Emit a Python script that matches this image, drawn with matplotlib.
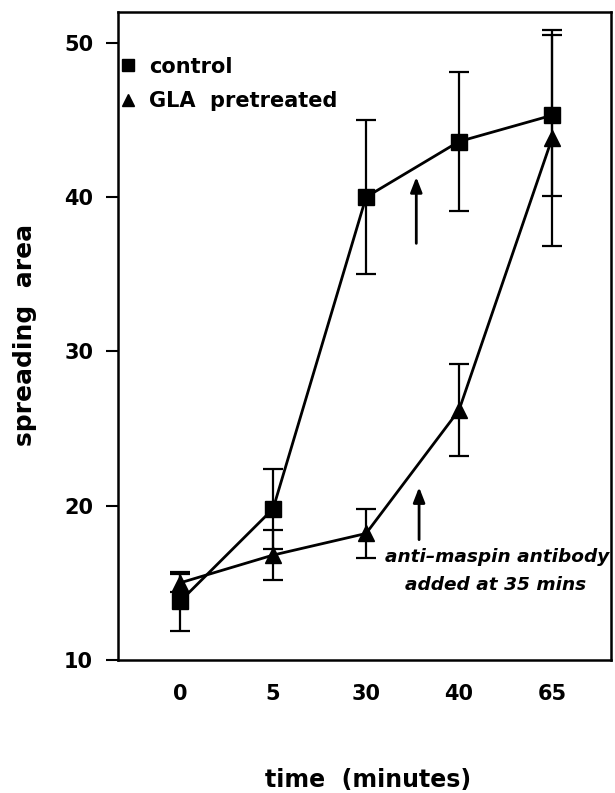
import matplotlib
matplotlib.use("Agg")
import matplotlib.pyplot as plt
from matplotlib.lines import Line2D

# time points (categorical axis)
time_labels = ["0", "5", "30", "40", "65"]

# mean spreading area and error
control_mean = [13.8, 19.8, 40.0, 43.6, 45.3]
control_err = [1.9, 2.6, 5.0, 4.5, 5.2]
gla_mean = [15.0, 16.8, 18.2, 26.2, 43.8]
gla_err = [0.6, 1.6, 1.6, 3.0, 7.0]

# antibody addition (35 min, between the 30 and 40 points)
arrow_x = [2.54, 2.57]
arrow_y0 = [37.0, 17.8]
arrow_y1 = [41.3, 21.2]

plt.rcParams["font.family"] = ["DejaVu Sans"]
plt.rcParams["font.weight"] = "bold"

fig = plt.figure(figsize=(6.15, 7.93), dpi=100)
ax = fig.add_axes([0.192, 0.1677, 0.8015, 0.8173])

xpos = list(range(len(time_labels)))
ekw = dict(color="black", lw=2, capsize=7, capthick=1.6, elinewidth=1.6)
ax.errorbar(xpos, control_mean, yerr=control_err, marker="s", ms=11,
            mfc="black", mec="black", **ekw)
ax.errorbar(xpos, gla_mean, yerr=gla_err, marker="^", ms=11,
            mfc="black", mec="black", **ekw)

for x, y0, y1 in zip(arrow_x, arrow_y0, arrow_y1):
    ax.annotate("", xy=(x, y1), xytext=(x, y0),
                arrowprops=dict(arrowstyle="-|>,head_length=0.9,head_width=0.35",
                                lw=2, color="black", shrinkA=0, shrinkB=0))

ax.text(3.41, 16.7, "anti\u2013maspin antibody", fontsize=13.3, style="italic",
        fontweight="bold", ha="center", va="center", clip_on=False)
ax.text(3.39, 14.85, "added at 35 mins", fontsize=13.3, style="italic",
        fontweight="bold", ha="center", va="center")

ax.set_xlim(-0.667, 4.634)
ax.set_ylim(10, 52)
ax.set_xticks(xpos)
ax.set_xticklabels(time_labels)
ax.set_yticks([10, 20, 30, 40, 50])
ax.tick_params(axis="x", length=0, pad=17, labelsize=15)
ax.tick_params(axis="y", length=9, width=1.5, pad=9, labelsize=15)
for s in ax.spines.values():
    s.set_linewidth(1.8)

fig.text(368 / 615, 1 - 780 / 793, "time  (minutes)", fontsize=17,
         fontweight="bold", ha="center", va="center")
fig.text(25 / 615, 1 - 335 / 793, "spreading  area", fontsize=18,
         fontweight="bold", ha="center", va="center", rotation=90)

handles = [Line2D([], [], ls="none", marker="s", ms=9, color="black"),
           Line2D([], [], ls="none", marker="^", ms=9, color="black")]
ax.legend(handles, ["control", "GLA  pretreated"], loc="upper left",
          bbox_to_anchor=(-0.03, 0.96), frameon=False, handlelength=0.6,
          handletextpad=0.7, labelspacing=0.7,
          prop=dict(size=15, weight="bold"))

fig.savefig("out.png", dpi=100)
